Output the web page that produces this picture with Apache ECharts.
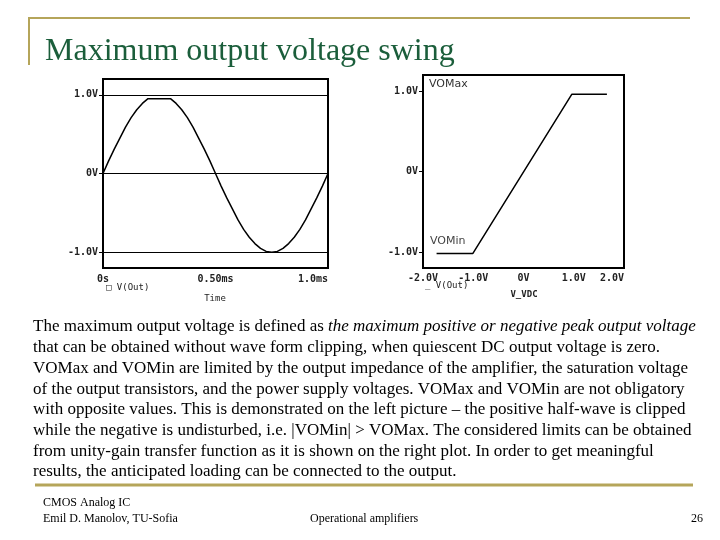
<!DOCTYPE html>
<html>
<head>
<meta charset="utf-8">
<script src="https://cdn.jsdelivr.net/npm/echarts@6.0.0/dist/echarts.min.js"></script>
<style>
html,body{margin:0;padding:0;background:#fff;}
#c{width:720px;height:540px;}
</style>
</head>
<body>
<div id="c"></div>
<script>
// ---- Data ----
// Left plot: transient output V(Out) vs time (ms)
var timeMs = [0, 0.025, 0.05, 0.075, 0.1, 0.125, 0.15, 0.175, 0.2, 0.225, 0.25, 0.275, 0.3,
  0.325, 0.35, 0.375, 0.4, 0.425, 0.45, 0.475, 0.5, 0.525, 0.55, 0.575, 0.6, 0.625, 0.65,
  0.675, 0.7, 0.725, 0.75, 0.775, 0.8, 0.825, 0.85, 0.875, 0.9, 0.925, 0.95, 0.975, 1.0];
var voutTran = [0, 0.16, 0.31, 0.45, 0.59, 0.71, 0.81, 0.89, 0.95, 0.95, 0.95, 0.95, 0.95,
  0.89, 0.81, 0.71, 0.59, 0.45, 0.31, 0.16, 0, -0.16, -0.31, -0.45, -0.59, -0.71, -0.81,
  -0.89, -0.95, -0.99, -1.0, -0.99, -0.95, -0.89, -0.81, -0.71, -0.59, -0.45, -0.31, -0.16, 0];
// Right plot: DC transfer V(Out) vs V_VDC
var vdc = [-1.73, -1.01, 0.96, 1.66];
var voutDc = [-1.02, -1.02, 0.96, 0.96];

// Tick labels
var leftXLabels = {'0': '0s', '0.5': '0.50ms', '1': '1.0ms'};
var yLabels = {'-1': '-1.0V', '0': '0V', '1': '1.0V'};
var rightXLabels = {'-2': '-2.0V', '-1': '-1.0V', '0': '0V', '1': '1.0V', '2': '2.0V'};
var yTickValues = [-1, 0, 1];
var gridLineValues = [1, 0, -1];

// Text
var titleText = 'Maximum output voltage swing';
var paraLines = [
  '{n|The maximum output voltage is defined as }{i|the maximum positive or negative peak output voltage}',
  '{n|that can be obtained without wave form clipping, when quiescent DC output voltage is zero.}',
  '{n|VOMax and VOMin are limited by the output impedance of the amplifier, the saturation voltage}',
  '{n|of the output transistors, and the power supply voltages. VOMax and VOMin are not obligatory}',
  '{n|with opposite values. This is demonstrated on the left picture \u2013 the positive half-wave is clipped}',
  '{n|while the negative is undisturbed, i.e. |VOMin| > VOMax. The considered limits can be obtained}',
  '{n|from unity-gain transfer function as it is shown on the right plot. In order to get meaningful}',
  '{n|results, the anticipated loading can be connected to the output.}'
];
var footer1 = 'CMOS Analog IC';
var footer2 = 'Emil D. Manolov, TU-Sofia';
var footerMid = 'Operational amplifiers';
var pageNo = '26';

// ---- Chart ----
var chart = echarts.init(document.getElementById('c'), null, {renderer: 'canvas'});
var gold = '#b5a55a';
var tickFont = {fontFamily: 'DejaVu Sans Mono', fontWeight: 'bold', fontSize: 10, color: '#222'};
var serif = 'Liberation Serif';

function zip(a, b) { return a.map(function (v, i) { return [v, b[i]]; }); }

var graphics = [
  {type: 'line', shape: {x1: 29, y1: 18, x2: 690, y2: 18}, style: {stroke: gold, lineWidth: 2}},
  {type: 'line', shape: {x1: 29, y1: 17, x2: 29, y2: 65}, style: {stroke: gold, lineWidth: 2}},
  {type: 'line', shape: {x1: 35, y1: 485, x2: 693, y2: 485}, style: {stroke: gold, lineWidth: 3}},
  {type: 'text', x: 45, y: 36, style: {text: titleText, fontFamily: serif, fontSize: 32, fill: '#1b5e3b', verticalAlign: 'top'}},
  {type: 'text', x: 43, y: 503, style: {text: footer1, fontFamily: serif, fontSize: 12, fill: '#000', verticalAlign: 'middle'}},
  {type: 'text', x: 43, y: 519, style: {text: footer2, fontFamily: serif, fontSize: 12, fill: '#000', verticalAlign: 'middle'}},
  {type: 'text', x: 310, y: 519, style: {text: footerMid, fontFamily: serif, fontSize: 12, fill: '#000', verticalAlign: 'middle'}},
  {type: 'text', x: 703, y: 519, style: {text: pageNo, fontFamily: serif, fontSize: 12, fill: '#000', align: 'right', verticalAlign: 'middle'}},
  // plot annotations
  {type: 'text', x: 106, y: 288, style: {text: '\u25a1 V(Out)', fontFamily: 'DejaVu Sans Mono', fontSize: 9, fill: '#222', verticalAlign: 'middle'}},
  {type: 'text', x: 215, y: 299, style: {text: 'Time', fontFamily: 'DejaVu Sans Mono', fontSize: 9, fill: '#222', align: 'center', verticalAlign: 'middle'}},
  {type: 'text', x: 425, y: 286, style: {text: '_ V(Out)', fontFamily: 'DejaVu Sans Mono', fontSize: 9, fill: '#222', verticalAlign: 'middle'}},
  {type: 'text', x: 524, y: 295, style: {text: 'V_VDC', fontFamily: 'DejaVu Sans Mono', fontWeight: 'bold', fontSize: 9, fill: '#222', align: 'center', verticalAlign: 'middle'}},
  {type: 'text', x: 429, y: 84, style: {text: 'VOMax', fontFamily: 'DejaVu Sans', fontSize: 11, fill: '#333', verticalAlign: 'middle'}},
  {type: 'text', x: 430, y: 241, style: {text: 'VOMin', fontFamily: 'DejaVu Sans', fontSize: 11, fill: '#444', verticalAlign: 'middle'}}
];
paraLines.forEach(function (t, i) {
  graphics.push({
    type: 'text', x: 33, y: 327 + i * 20.7,
    style: {
      text: t, verticalAlign: 'middle', fill: '#000',
      rich: {
        n: {fontFamily: serif, fontSize: 17, fill: '#000'},
        i: {fontFamily: serif, fontSize: 17, fontStyle: 'italic', fill: '#000'}
      }
    }
  });
});

var option = {
  animation: false,
  backgroundColor: '#fff',
  grid: [
    {left: 103, top: 79, width: 225, height: 189, show: true, borderColor: '#000', borderWidth: 2, backgroundColor: 'transparent'},
    {left: 423, top: 75, width: 201, height: 193, show: true, borderColor: '#000', borderWidth: 2, backgroundColor: 'transparent'}
  ],
  xAxis: [
    {type: 'value', gridIndex: 0, min: 0, max: 1, interval: 0.5, position: 'bottom',
      axisLine: {show: false, onZero: false}, axisTick: {show: false}, splitLine: {show: false},
      axisLabel: Object.assign({margin: 6, alignMaxLabel: 'right', formatter: function (v) { return leftXLabels[String(v)] || ''; }}, tickFont)},
    {type: 'value', gridIndex: 1, min: -2, max: 2, interval: 1, position: 'bottom',
      axisLine: {show: false, onZero: false}, axisTick: {show: false}, splitLine: {show: false},
      axisLabel: Object.assign({margin: 5, alignMaxLabel: 'right', formatter: function (v) { return rightXLabels[String(v)] || ''; }}, tickFont)}
  ],
  yAxis: [
    {type: 'value', gridIndex: 0, min: -1.2, max: 1.2, position: 'left',
      axisLine: {show: false, onZero: false}, splitLine: {show: false},
      axisTick: {show: true, length: 4, customValues: yTickValues, lineStyle: {color: '#000', width: 1}},
      axisLabel: Object.assign({margin: 5, customValues: yTickValues, formatter: function (v) { return yLabels[String(v)] || ''; }}, tickFont)},
    {type: 'value', gridIndex: 1, min: -1.2, max: 1.2, position: 'left',
      axisLine: {show: false, onZero: false}, splitLine: {show: false},
      axisTick: {show: true, length: 4, customValues: yTickValues, lineStyle: {color: '#000', width: 1}},
      axisLabel: Object.assign({margin: 5, customValues: yTickValues, formatter: function (v) { return yLabels[String(v)] || ''; }}, tickFont)}
  ],
  series: [
    {type: 'line', xAxisIndex: 0, yAxisIndex: 0, data: zip(timeMs, voutTran), showSymbol: false, symbol: 'none',
      lineStyle: {color: '#000', width: 1.5}, silent: true,
      markLine: {silent: true, symbol: ['none', 'none'], label: {show: false},
        lineStyle: {color: '#000', type: 'solid', width: 1.2},
        data: gridLineValues.map(function (v) { return {yAxis: v}; })}},
    {type: 'line', xAxisIndex: 1, yAxisIndex: 1, data: zip(vdc, voutDc), showSymbol: false, symbol: 'none',
      lineStyle: {color: '#000', width: 1.5}, silent: true}
  ],
  graphic: {elements: graphics}
};
chart.setOption(option);
</script>
</body>
</html>
